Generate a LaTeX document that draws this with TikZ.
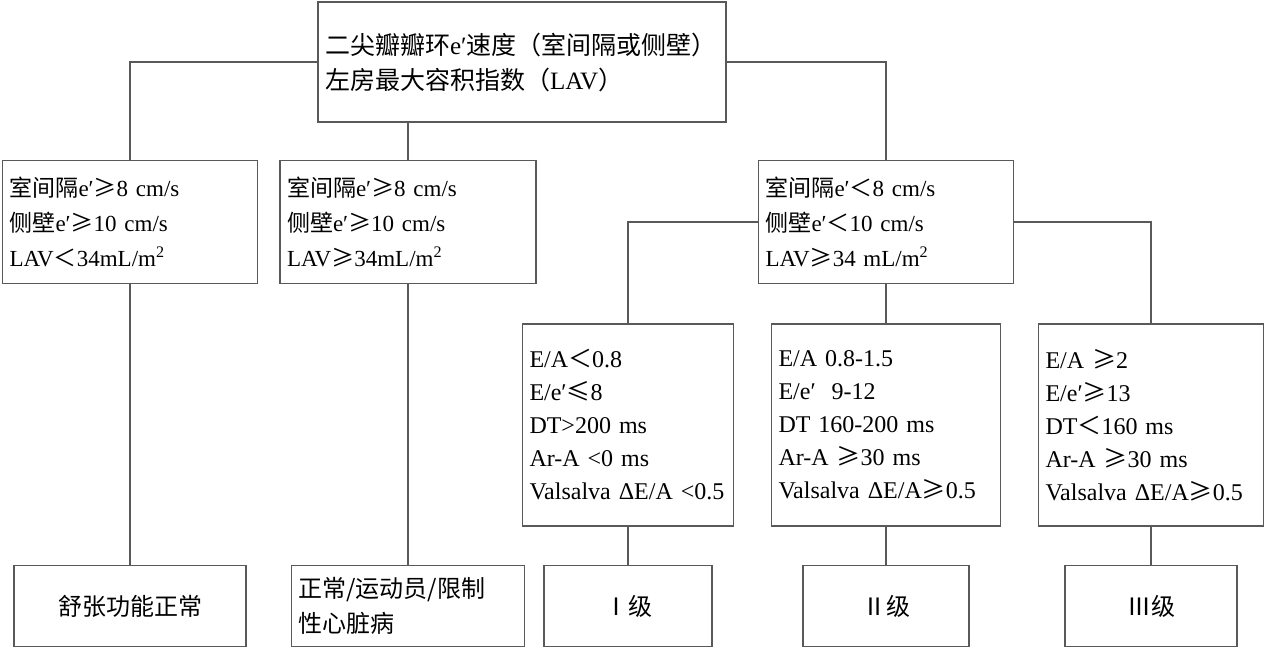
\documentclass[tikz,border=0pt]{standalone}
\usepackage{fontspec}
\setmainfont{Liberation Serif}
\newfontfamily\cjk{Noto Sans CJK SC}
\newcommand{\zh}[1]{{\cjk #1}}
\begin{document}
\begin{tikzpicture}[
		x=1pt, y=-1pt,
		box/.style 2 args={draw=black!65, line width=1.2pt, rectangle, inner xsep=7pt, inner ysep=0pt,
				align=left, text width=#1, minimum height=#2},
		top/.style={font=\fontsize{25}{35}\selectfont},
		mid/.style={font=\fontsize{23}{35}\selectfont},
		low/.style={font=\fontsize{24}{33}\selectfont},
		leaf/.style={font=\fontsize{24}{35}\selectfont},
		ln/.style={draw=black!65, line width=1.2pt}
	]
	\useasboundingbox (0,0) rectangle (1269,653);
	\node[box={394pt}{120pt}, top] (root) at (522,62)
	{\zh{二尖瓣瓣环}e′\zh{速度（室间隔或侧壁）}\\\zh{左房最大容积指数（}LAV\zh{）}};
	\node[box={241pt}{123pt}, mid] (a) at (130,222)
	{\zh{室间隔}e′\zh{≥}8 cm/s\\\zh{侧壁}e′\zh{≥}10 cm/s\\LAV\zh{＜}34mL/m\textsuperscript{2}};
	\node[box={242pt}{123pt}, mid] (b) at (408,222)
	{\zh{室间隔}e′\zh{≥}8 cm/s\\\zh{侧壁}e′\zh{≥}10 cm/s\\LAV\zh{≥}34mL/m\textsuperscript{2}};
	\node[box={241pt}{123pt}, mid] (c) at (886,222)
	{\zh{室间隔}e′\zh{＜}8 cm/s\\\zh{侧壁}e′\zh{＜}10 cm/s\\LAV\zh{≥}34 mL/m\textsuperscript{2}};
	\node[box={197pt}{202pt}, low] (d) at (628,425)
	{E/A\zh{＜}0.8\\E/e′\zh{≤}8\\DT>200 ms\\Ar-A <0 ms\\Valsalva ΔE/A <0.5};
	\node[box={215pt}{202pt}, low] (e) at (886,425)
	{E/A 0.8-1.5\\E/e′\ \ 9-12\\DT 160-200 ms\\Ar-A \zh{≥}30 ms\\Valsalva ΔE/A\zh{≥}0.5};
	\node[box={211pt}{202pt}, low] (f) at (1151,425)
	{E/A \zh{≥}2\\E/e′\zh{≥}13\\DT\zh{＜}160 ms\\Ar-A \zh{≥}30 ms\\Valsalva ΔE/A\zh{≥}0.5};
	\node[box={218pt}{81pt}, leaf, align=center] (a1) at (130,606) {\zh{舒张功能正常}};
	\node[box={219pt}{81pt}, leaf] (b1) at (408,606) {\zh{正常/运动员/限制}\\\zh{性心脏病}};
	\node[box={154pt}{81pt}, leaf, align=center] (d1) at (628,606) {\zh{Ⅰ级}};
	\node[box={152pt}{81pt}, leaf, align=center] (e1) at (886,606) {\zh{Ⅱ级}};
	\node[box={158pt}{81pt}, leaf, align=center] (f1) at (1151,606) {\zh{Ⅲ级}};
	\draw[ln] (root.west) -| (a.north);
	\draw[ln] (root.east) -| (c.north);
	\draw[ln] (root.south-|b.north) -- (b.north);
	\draw[ln] (c.west) -| (d.north);
	\draw[ln] (c.east) -| (f.north);
	\draw[ln] (c) -- (e);
	\draw[ln] (a) -- (a1);
	\draw[ln] (b) -- (b1);
	\draw[ln] (d) -- (d1);
	\draw[ln] (e) -- (e1);
	\draw[ln] (f) -- (f1);
\end{tikzpicture}
\end{document}
